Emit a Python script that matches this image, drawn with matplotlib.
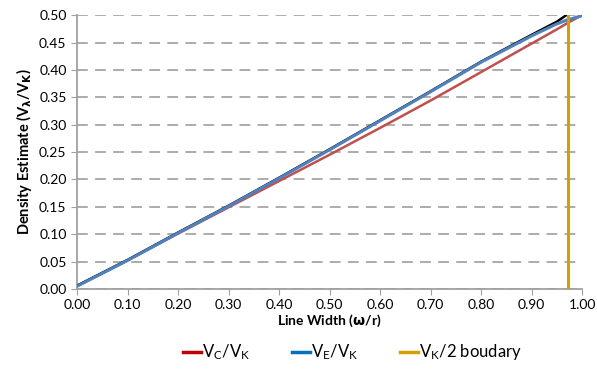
import matplotlib
matplotlib.use('Agg')
import matplotlib.pyplot as plt
from matplotlib.lines import Line2D
import numpy as np

plt.rcParams['font.family'] = ['Lato', 'DejaVu Sans']
plt.rcParams['mathtext.fontset'] = 'custom'
plt.rcParams['mathtext.rm'] = 'Lato'
plt.rcParams['mathtext.it'] = 'Lato'

# === data ===
x_red = [0.0, 0.1, 0.2, 0.3, 0.4, 0.5, 0.6, 0.7, 0.8, 0.9, 0.95, 0.97, 1.0]
y_red = [0.005, 0.052, 0.101, 0.149, 0.197, 0.245, 0.294, 0.344, 0.396, 0.448, 0.474, 0.485, 0.500]

x_blue = [0.0, 0.1, 0.2, 0.3, 0.4, 0.5, 0.6, 0.7, 0.8, 0.9, 0.95, 0.97, 0.996]
y_blue = [0.005, 0.052, 0.102, 0.151, 0.202, 0.254, 0.307, 0.360, 0.414, 0.462, 0.484, 0.491, 0.498]

x_black = [0.0, 0.1, 0.2, 0.3, 0.4, 0.5, 0.6, 0.7, 0.8, 0.9, 0.95, 0.972]
y_black = [0.006, 0.053, 0.103, 0.152, 0.203, 0.255, 0.308, 0.361, 0.415, 0.464, 0.488, 0.502]

x_bound = [0.972, 0.972]
y_bound = [0.0, 0.50]

fig = plt.figure(figsize=(5.97, 3.69), dpi=100)
ax = fig.add_axes([0.129, 0.217, 0.846, 0.742])

ax.plot(x_red, y_red, color='#c0504d', lw=1.8, zorder=3)
ax.plot(x_black, y_black, color='black', lw=1.8, zorder=3)
ax.plot(x_blue, y_blue, color='#4f81bd', lw=2.2, zorder=4)
ax.plot(x_bound, y_bound, color='#d4a000', lw=2.2, zorder=5)

ax.set_xlim(0, 1)
ax.set_ylim(0, 0.5)
ax.set_xticks(np.arange(0, 1.01, 0.1))
ax.set_yticks(np.arange(0, 0.501, 0.05))
ax.set_xticklabels([f'{v:.2f}' for v in np.arange(0, 1.01, 0.1)])
ax.set_yticklabels([f'{v:.2f}' for v in np.arange(0, 0.501, 0.05)])
ax.tick_params(labelsize=10, color='#a0a0a0', length=4, direction='out')

ax.grid(axis='y', color='#a6a6a6', linestyle=(0, (6, 4)), lw=1.3)
ax.set_axisbelow(True)
for s in ['top', 'right']:
    ax.spines[s].set_visible(False)
for s in ['left', 'bottom']:
    ax.spines[s].set_color('#a0a0a0')
    ax.spines[s].set_linewidth(1.3)

ax.set_xlabel(r'Line Width ($\mathbf{\omega}$/r)', fontsize=10, fontweight='bold', labelpad=1)
ax.set_ylabel(r'Density Estimate (V$_\mathbf{\lambda}$/V$_\mathbf{K}$)', fontsize=10.5, fontweight='bold', labelpad=4)

handles = [Line2D([], [], color='#c00000', lw=2.5),
           Line2D([], [], color='#0070c0', lw=2.5),
           Line2D([], [], color='#d4a000', lw=2.5)]
labels = [r'V$_\mathrm{C}$/V$_\mathrm{K}$', r'V$_\mathrm{E}$/V$_\mathrm{K}$', r'V$_\mathrm{K}$/2 boudary']
fig.legend(handles, labels, loc='center', bbox_to_anchor=(0.59, 0.045), ncol=3, frameon=False,
           fontsize=12, handlelength=1.1, handletextpad=0.05, columnspacing=2.5)

plt.savefig('out.png', dpi=100)
plt.close()
